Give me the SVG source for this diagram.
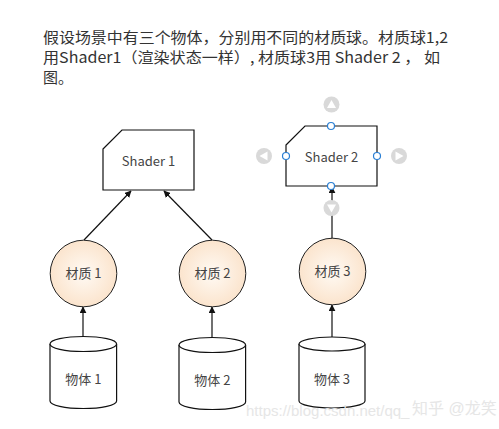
<svg xmlns="http://www.w3.org/2000/svg" width="499" height="429" viewBox="0 0 499 429">
<defs>
<radialGradient id="ball" cx="50%" cy="50%" r="50%">
<stop offset="0" stop-color="#fffaf4"/>
<stop offset="1" stop-color="#fbe4cd"/>
</radialGradient>
<marker id="arr" viewBox="0 0 10 10" refX="9" refY="5" markerWidth="7" markerHeight="7" orient="auto" markerUnits="userSpaceOnUse">
<path d="M0,0 L10,5 L0,10 Z" fill="#111"/>
</marker>
<style>
.t{font-family:"Microsoft YaHei","Noto Sans CJK SC","Noto Sans",sans-serif;fill:#333}
.head{font-size:15px}
.lbl{font-size:13px;text-anchor:middle;fill:#444}
.box{fill:#fff;stroke:#111;stroke-width:1.2}
.ball{fill:url(#ball);stroke:#222;stroke-width:1}
.cyl{fill:#fff;stroke:#111;stroke-width:1.2}
.edge{fill:none;stroke:#111;stroke-width:1.2;marker-end:url(#arr)}
.hdl{fill:#fff;stroke:#2a7fd4;stroke-width:1.2}
.nav{fill:#d9d9d9}
.navg{fill:#fff}
.wm{font-family:"Liberation Sans","Noto Sans CJK SC",sans-serif;font-size:15px;fill:#e6e6e6}
</style>
</defs>
<rect width="499" height="429" fill="#fff"/>
<g id="intro">
<text class="t head" x="43" y="43" textLength="405" lengthAdjust="spacingAndGlyphs">假设场景中有三个物体，分别用不同的材质球。材质球1,2</text>
<text class="t head" x="43" y="63" textLength="397" lengthAdjust="spacingAndGlyphs">用Shader1（渲染状态一样）, 材质球3用 Shader 2 ， 如</text>
<text class="t head" x="43" y="83">图。</text>
</g>
<g id="connectors">
<line class="edge" x1="84" y1="240" x2="131" y2="191"/>
<line class="edge" x1="212" y1="240" x2="164" y2="191"/>
<line class="edge" x1="332" y1="239" x2="332" y2="187"/>
<line class="edge" x1="83" y1="337" x2="83" y2="307"/>
<line class="edge" x1="212" y1="338" x2="212" y2="307"/>
<line class="edge" x1="332" y1="337" x2="332" y2="305"/>
</g>
<g id="shader1">
<path class="box" d="M103,149 L122,130 L194,130 L194,190 L103,190 Z"/>
<text class="t lbl" x="148.5" y="166">Shader 1</text>
</g>
<g id="shader2">
<path class="box" d="M286,145 L305,126 L377,126 L377,186 L286,186 Z"/>
<text class="t lbl" x="331.5" y="162">Shader 2</text>
<circle class="hdl" cx="331" cy="126" r="3.5"/>
<circle class="hdl" cx="286" cy="156" r="3.5"/>
<circle class="hdl" cx="377" cy="156" r="3.5"/>
<circle class="hdl" cx="331" cy="186" r="3.5"/>
<circle class="nav" cx="331.5" cy="104.5" r="8"/>
<path class="navg" d="M331.5,100 L336,108 L327,108 Z"/>
<circle class="nav" cx="264" cy="156" r="8"/>
<path class="navg" d="M259.5,156 L267.5,151.5 L267.5,160.5 Z"/>
<circle class="nav" cx="399" cy="156" r="8"/>
<path class="navg" d="M403.5,156 L395.5,151.5 L395.5,160.5 Z"/>
<circle class="nav" cx="331.5" cy="208" r="8"/>
<path class="navg" d="M331.5,212.5 L336,204.5 L327,204.5 Z"/>
</g>
<g id="mat1">
<circle class="ball" cx="83.5" cy="273.5" r="33.3"/>
<text class="t lbl" x="83.5" y="278">材质 1</text>
</g>
<g id="mat2">
<circle class="ball" cx="212.5" cy="273.5" r="33.3"/>
<text class="t lbl" x="212.5" y="278">材质 2</text>
</g>
<g id="mat3">
<circle class="ball" cx="332.5" cy="271.5" r="33.3"/>
<text class="t lbl" x="332.5" y="276">材质 3</text>
</g>
<g id="obj1">
<path class="cyl" d="M50,344 A33.3,7.5 0 0 1 116.6,344 L116.6,401 A33.3,7.5 0 0 1 50,401 Z"/>
<path class="cyl" d="M50,344 A33.3,7.5 0 0 0 116.6,344" fill="none"/>
<text class="t lbl" x="83.3" y="384">物体 1</text>
</g>
<g id="obj2">
<path class="cyl" d="M179,345 A33.3,7.5 0 0 1 245.6,345 L245.6,402 A33.3,7.5 0 0 1 179,402 Z"/>
<path class="cyl" d="M179,345 A33.3,7.5 0 0 0 245.6,345" fill="none"/>
<text class="t lbl" x="212.3" y="385">物体 2</text>
</g>
<g id="obj3">
<path class="cyl" d="M299,344 A33,7 0 0 1 365,344 L365,401 A33,7 0 0 1 299,401 Z"/>
<path class="cyl" d="M299,344 A33,7 0 0 0 365,344" fill="none"/>
<text class="t lbl" x="332" y="384">物体 3</text>
</g>
<g id="watermark">
<text class="wm" x="246" y="416">https://blog.csdn.net/qq_</text>
<text class="wm" x="412" y="414" style="font-size:16px">知乎 @龙笑</text>
</g>
</svg>
